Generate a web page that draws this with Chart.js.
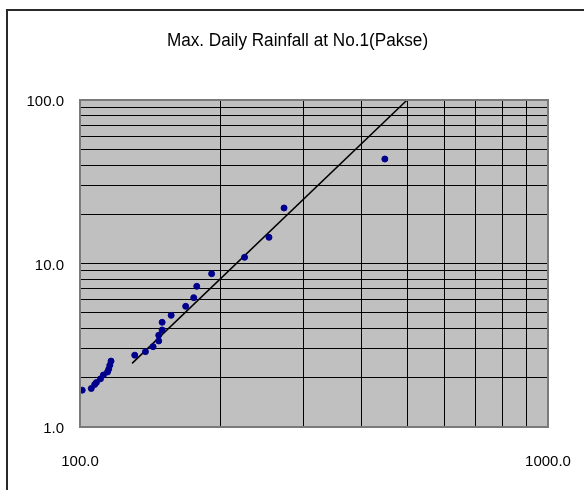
<!DOCTYPE html>
<html>
<head>
<meta charset="utf-8">
<script src="https://cdn.jsdelivr.net/npm/chart.js@4/dist/chart.umd.min.js"></script>
<style>
  html, body { margin: 0; padding: 0; background: #fff; }
  #wrap { width: 584px; height: 490px; position: relative; }
</style>
</head>
<body>
<div id="wrap"><canvas id="c" width="584" height="490"></canvas></div>
<script>
// Observed annual maximum daily rainfall (plotting positions)
const obsX = [101.1, 105.7, 107.5, 108.4, 110.6, 112.2, 114.5, 115.2, 115.8, 116.5,
              130.9, 138.0, 143.3, 147.3, 147.3, 149.8, 149.8, 156.6, 168.2, 175.0,
              177.6, 191.1, 224.7, 253.4, 272.9, 448.1];
const obsY = [1.68, 1.72, 1.82, 1.87, 1.97, 2.08, 2.17, 2.26, 2.39, 2.53,
              2.75, 2.89, 3.10, 3.36, 3.64, 3.92, 4.37, 4.82, 5.47, 6.18,
              7.25, 8.66, 10.91, 14.46, 21.85, 43.57];

// Fitted straight line (log-log)
const fitX = [129.2, 500];
const fitY = [2.45, 100];

// Axis grid values and labelled ticks
const xGrid = [100, 200, 300, 400, 500, 600, 700, 800, 900, 1000];
const yGrid = [1, 2, 3, 4, 5, 6, 7, 8, 9, 10, 20, 30, 40, 50, 60, 70, 80, 90, 100];
const xLabels = [100, 1000];
const yLabels = [1, 10, 100];

const titleText = 'Max. Daily Rainfall at No.1(Pakse)';
const FONT = '"Liberation Sans", Arial, sans-serif';

const frame = {
  id: 'frame',
  beforeDraw(chart) {
    const { ctx, chartArea: a } = chart;
    ctx.save();
    ctx.fillStyle = '#ffffff';
    ctx.fillRect(0, 0, chart.width, chart.height);
    ctx.strokeStyle = '#2a2a2a';
    ctx.lineWidth = 2;
    ctx.strokeRect(7, 10, 700, 700);
    ctx.fillStyle = '#c0c0c0';
    ctx.fillRect(a.left, a.top, a.right - a.left, a.bottom - a.top);
    // chart title, slightly condensed
    ctx.fillStyle = '#000';
    ctx.font = '18px ' + FONT;
    ctx.textAlign = 'center';
    ctx.textBaseline = 'middle';
    ctx.translate(297.5, 41);
    ctx.scale(0.953, 1);
    ctx.fillText(titleText, 0, 0);
    ctx.restore();
  },
  afterDraw(chart) {
    const { ctx, chartArea: a } = chart;
    ctx.save();
    ctx.strokeStyle = '#7a7a7a';
    ctx.lineWidth = 2;
    ctx.strokeRect(a.left, a.top, a.right - a.left, a.bottom - a.top);
    ctx.restore();
  }
};

new Chart(document.getElementById('c'), {
  type: 'scatter',
  data: {
    datasets: [
      {
        label: 'Observed',
        data: obsX.map((x, i) => ({ x, y: obsY[i] })),
        backgroundColor: '#00008c',
        borderColor: '#00008c',
        pointRadius: 3,
        pointHoverRadius: 3,
        showLine: false
      },
      {
        label: 'Fit',
        data: fitX.map((x, i) => ({ x, y: fitY[i] })),
        borderColor: '#000000',
        borderWidth: 1.5,
        pointRadius: 0,
        showLine: true,
        fill: false
      }
    ]
  },
  options: {
    responsive: false,
    animation: false,
    events: [],
    layout: { padding: { left: 0, right: 36, top: 100, bottom: 0 } },
    plugins: {
      legend: { display: false },
      tooltip: { enabled: false },
      title: { display: false }
    },
    scales: {
      x: {
        type: 'logarithmic',
        min: 100,
        max: 1000,
        afterBuildTicks(scale) { scale.ticks = xGrid.map(v => ({ value: v })); },
        afterFit(scale) { scale.height = 63; scale.paddingLeft = 0; scale.paddingRight = 0; },
        grid: { color: '#000', lineWidth: 1, drawTicks: false },
        border: { display: false },
        ticks: {
          autoSkip: false,
          maxRotation: 0,
          padding: 26,
          color: '#000',
          font: { family: FONT, size: 15 },
          callback: v => xLabels.includes(v) ? v.toFixed(1) : ''
        }
      },
      y: {
        type: 'logarithmic',
        min: 1,
        max: 100,
        afterBuildTicks(scale) { scale.ticks = yGrid.map(v => ({ value: v })); },
        afterFit(scale) { scale.width = 80; scale.paddingTop = 0; scale.paddingBottom = 0; },
        grid: { color: '#000', lineWidth: 1, drawTicks: false },
        border: { display: false },
        ticks: {
          autoSkip: false,
          padding: 16,
          labelOffset: 2,
          color: '#000',
          font: { family: FONT, size: 15 },
          callback: v => yLabels.includes(v) ? v.toFixed(1) : ''
        }
      }
    }
  },
  plugins: [frame]
});
</script>
</body>
</html>
